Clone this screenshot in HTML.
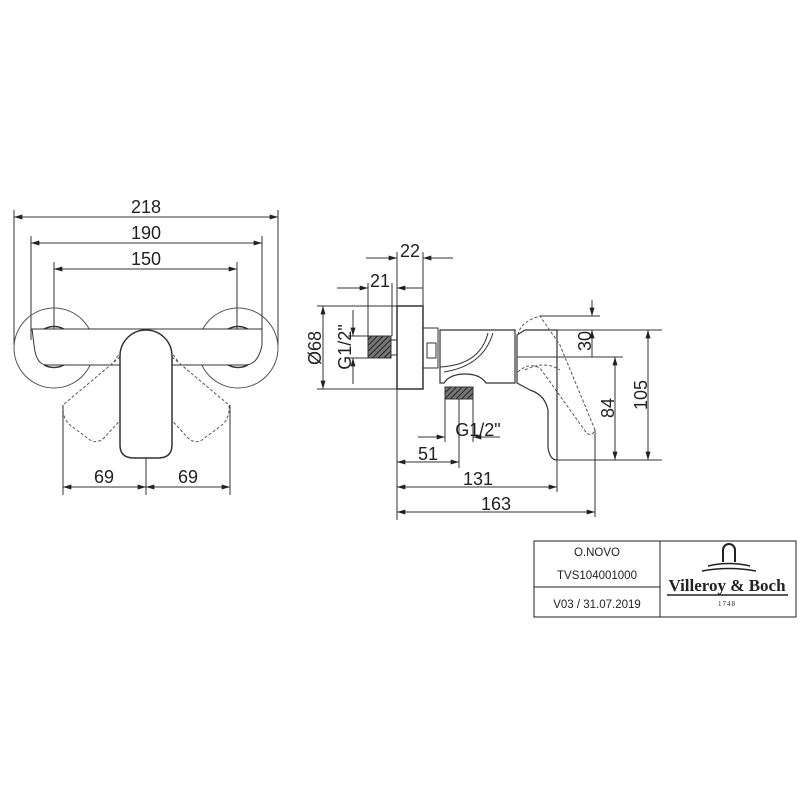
<!DOCTYPE html>
<html><head><meta charset="utf-8"><style>
html,body{margin:0;padding:0;background:#fff}
svg{display:block}
text{font-family:"Liberation Sans",sans-serif;fill:#222}
</style></head><body>
<svg width="800" height="800" viewBox="0 0 800 800" xmlns="http://www.w3.org/2000/svg">
<defs>
<marker id="a" viewBox="0 0 10 6" refX="10" refY="3" markerWidth="13" markerHeight="5" orient="auto-start-reverse" markerUnits="userSpaceOnUse"><path d="M0,0 L10,3 L0,6z" fill="#222"/></marker>
<pattern id="h" width="4" height="4" patternUnits="userSpaceOnUse" patternTransform="rotate(45)"><rect width="4" height="4" fill="#777"/><line x1="0" y1="0" x2="0" y2="4" stroke="#222" stroke-width="2"/></pattern>
</defs>
<g stroke="#333" stroke-width="1" fill="none">
<line x1="14" y1="210" x2="14" y2="345"/><line x1="278" y1="210" x2="278" y2="345"/>
<line x1="14" y1="217" x2="278" y2="217" marker-start="url(#a)" marker-end="url(#a)"/>
<line x1="31" y1="236" x2="31" y2="340"/><line x1="262" y1="236" x2="262" y2="340"/>
<line x1="31" y1="243" x2="262" y2="243" marker-start="url(#a)" marker-end="url(#a)"/>
<line x1="54" y1="262" x2="54" y2="345"/><line x1="237" y1="262" x2="237" y2="345"/>
<line x1="54" y1="269" x2="237" y2="269" marker-start="url(#a)" marker-end="url(#a)"/>
<circle cx="54" cy="348" r="40" stroke="#555"/>
<circle cx="238" cy="348" r="40" stroke="#555"/>
<path d="M32,329 L262,329 L262,345 Q258,365 245,365 L47,365 Q36,365 34,345 Z" fill="#fff"/>
<path d="M44,329 Q54,324 64,329 M44,365 Q54,370 64,365 M228,329 Q238,324 248,329 M228,365 Q238,370 248,365" stroke-width="1.5"/>
<g stroke-dasharray="3,2" stroke="#555">
<path d="M120,357 L63,405 Q62,418 70,425 L90,440 Q97,444 104,438 L170,366"/>
<path d="M172,357 L229,405 Q230,418 222,425 L202,440 Q195,444 188,438 L122,366"/>
<path d="M114,362 A36,36 0 0 1 178,362"/>
</g>
<path d="M120,356 A26,26 0 0 1 172,356 L172,445 Q172,458 158,458 L134,458 Q120,458 120,445 Z" fill="#fff" stroke-width="1.5"/>
<line x1="63" y1="405" x2="63" y2="495"/><line x1="230" y1="405" x2="230" y2="495"/><line x1="146" y1="458" x2="146" y2="495"/>
<line x1="63" y1="487" x2="146" y2="487" marker-start="url(#a)" marker-end="url(#a)"/>
<line x1="146" y1="487" x2="230" y2="487" marker-start="url(#a)" marker-end="url(#a)"/>

<line x1="397" y1="252" x2="397" y2="520"/><line x1="423" y1="252" x2="423" y2="306"/>
<line x1="366" y1="258" x2="397" y2="258" marker-end="url(#a)"/><line x1="453" y1="258" x2="423" y2="258" marker-end="url(#a)"/>
<line x1="368" y1="283" x2="368" y2="336"/><line x1="392" y1="283" x2="392" y2="336"/>
<line x1="337" y1="288" x2="368" y2="288" marker-end="url(#a)"/><line x1="423" y1="288" x2="397" y2="288" marker-end="url(#a)"/>
<rect x="397" y="306" width="26" height="83" stroke-width="1.5"/>
<line x1="317" y1="306" x2="397" y2="306"/><line x1="317" y1="389" x2="397" y2="389"/>
<line x1="323" y1="306" x2="323" y2="389" marker-start="url(#a)" marker-end="url(#a)"/>
<line x1="348" y1="336" x2="368" y2="336"/><line x1="348" y1="358" x2="368" y2="358"/>
<line x1="353" y1="310" x2="353" y2="336" marker-end="url(#a)"/><line x1="353" y1="384" x2="353" y2="358" marker-end="url(#a)"/>
<rect x="368" y="336" width="23" height="22" fill="url(#h)"/>
<rect x="391" y="340" width="6" height="15"/>
<rect x="423" y="328" width="15" height="40"/><rect x="427" y="343" width="9" height="15"/>
<path d="M440,330 L515,330 L515,383 L486,383 Q480,374 465,374 Q450,374 444,383 L440,383 Z" fill="#fff" stroke-width="1.2"/>
<path d="M440,367 Q480,365 488,333 M444,372 Q483,366 493,333"/>
<rect x="445" y="387" width="28" height="12" fill="url(#h)"/>
<line x1="445" y1="399" x2="445" y2="442"/><line x1="473" y1="399" x2="473" y2="442"/><line x1="459" y1="399" x2="459" y2="468"/>
<line x1="418" y1="437" x2="445" y2="437" marker-end="url(#a)"/><line x1="500" y1="437" x2="473" y2="437" marker-end="url(#a)"/>
<path d="M517,335 L525,330 L557,330 L557,460 Q550,460 548,448 L548,410 Q545,395 530,390 L517,383 Z" fill="#fff" stroke-width="1.2"/>
<line x1="517" y1="357" x2="557" y2="357"/>
<g stroke-dasharray="3,2" stroke="#555">
<path d="M518,335 Q520,322 540,316 L560,345 L595,430 Q590,440 583,428 L540,368 Q528,362 518,372"/>
<path d="M525,370 Q545,360 560,370"/>
</g>
<line x1="540" y1="316" x2="600" y2="316"/><line x1="557" y1="330" x2="662" y2="330"/>
<line x1="557" y1="357" x2="623" y2="357"/><line x1="557" y1="460" x2="662" y2="460"/>
<line x1="592" y1="300" x2="592" y2="316" marker-end="url(#a)"/><line x1="592" y1="357" x2="592" y2="330" marker-end="url(#a)"/>
<line x1="615" y1="357" x2="615" y2="460" marker-start="url(#a)" marker-end="url(#a)"/>
<line x1="648" y1="330" x2="648" y2="460" marker-start="url(#a)" marker-end="url(#a)"/>
<line x1="557" y1="460" x2="557" y2="492"/><line x1="595" y1="430" x2="595" y2="517"/>
<line x1="397" y1="462" x2="459" y2="462" marker-start="url(#a)" marker-end="url(#a)"/>
<line x1="397" y1="487" x2="557" y2="487" marker-start="url(#a)" marker-end="url(#a)"/>
<line x1="397" y1="512" x2="595" y2="512" marker-start="url(#a)" marker-end="url(#a)"/>
<rect x="534" y="541" width="262" height="76" stroke="#222"/>
<line x1="660" y1="541" x2="660" y2="617" stroke="#222"/>
<line x1="534" y1="587" x2="660" y2="587" stroke="#222"/>
<path d="M723,562 L723,550 A6,6 0 0 1 735,550 L735,562" stroke="#222" stroke-width="2"/>
<path d="M708,566 Q729,561 750,566 M702,571 Q729,566 756,571" stroke="#222" stroke-width="1.5"/>
<line x1="667" y1="595" x2="788" y2="595" stroke="#222" stroke-width="1.5"/>
</g>
<g font-size="18" text-anchor="middle">
<text x="146" y="213">218</text><text x="146" y="239">190</text><text x="146" y="265">150</text>
<text x="104" y="483">69</text><text x="188" y="483">69</text>
<text x="410" y="257">22</text><text x="380" y="287">21</text>
<text x="478" y="436">G1/2"</text><text x="428" y="460">51</text>
<text x="478" y="485">131</text><text x="496" y="510">163</text>
<text transform="translate(321,348) rotate(-90)">Ø68</text>
<text transform="translate(351,347) rotate(-90)">G1/2"</text>
<text transform="translate(591,341) rotate(-90)">30</text>
<text transform="translate(614,408) rotate(-90)">84</text>
<text transform="translate(647,395) rotate(-90)">105</text>
</g>
<g font-size="11.5" text-anchor="middle">
<text x="597" y="556">O.NOVO</text>
<text x="597" y="579">TVS104001000</text>
<text x="597" y="608">V03 / 31.07.2019</text>
</g>
<text x="727" y="591" text-anchor="middle" font-size="17" font-weight="bold" style="font-family:'Liberation Serif',serif">Villeroy &amp; Boch</text>
<text x="727" y="606" text-anchor="middle" font-size="7" style="font-family:'Liberation Serif',serif;letter-spacing:1px">1748</text>
</svg>
</body></html>
